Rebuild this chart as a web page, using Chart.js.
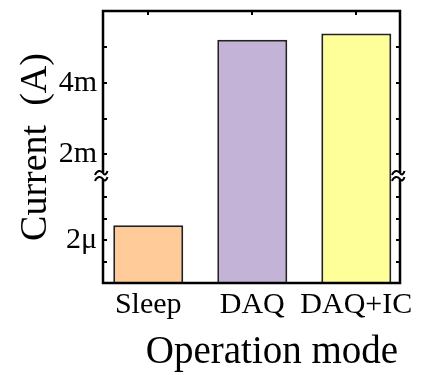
<!DOCTYPE html>
<html>
<head>
<meta charset="utf-8">
<script src="https://cdn.jsdelivr.net/npm/chart.js@4/dist/chart.umd.min.js"></script>
<style>
  html, body { margin: 0; padding: 0; background: #fff; }
  #wrap { width: 427px; height: 375px; }
</style>
</head>
<body>
<div id="wrap"><canvas id="myChart"></canvas></div>
<script>
// operating modes and measured supply current (A)
const modes = ['Sleep', 'DAQ', 'DAQ+IC'];
const currents = [2.7e-6, 5.2e-3, 5.37e-3];
const barColors = ['#fecb99', '#c3b3d7', '#ffff99'];

// broken y axis: microamp segment below, milliamp segment above
const lowRange = [0, 5e-6];
const highRange = [1.4e-3, 6e-3];
const lowTicks = [1e-6, 2e-6, 3e-6, 4e-6];
const highTicks = [2e-3, 3e-3, 4e-3, 5e-3];
const labeledTicks = [2e-6, 2e-3, 4e-3];
const labeledText = ['2\u03bc', '2m', '4m'];

const serif = '"Liberation Serif", "Times New Roman", serif';

function tickText(v) {
    let i = labeledTicks.indexOf(v);
    return i < 0 ? '' : labeledText[i];
}

function noPadding(s) {
    s.paddingTop = 0;
    s.paddingBottom = 0;
    s.paddingLeft = 0;
    s.paddingRight = 0;
}

// inward tick marks on all four sides
const frameTicks = {
    id: 'frameTicks',
    beforeDatasetsDraw(chart) {
        const ctx = chart.ctx;
        const a = chart.chartArea;
        const len = 4;
        ctx.save();
        ctx.strokeStyle = '#000';
        ctx.lineWidth = 2;
        ctx.beginPath();
        [['yLow', lowTicks], ['yHigh', highTicks]].forEach(([id, vals]) => {
            let s = chart.scales[id];
            vals.forEach(v => {
                let y = Math.round(s.getPixelForValue(v));
                ctx.moveTo(a.left, y); ctx.lineTo(a.left + len, y);
                ctx.moveTo(a.right, y); ctx.lineTo(a.right - len, y);
            });
        });
        modes.forEach((m, i) => {
            let x = Math.round(chart.scales.x.getPixelForValue(i));
            ctx.moveTo(x, a.top); ctx.lineTo(x, a.top + len);
            ctx.moveTo(x, a.bottom); ctx.lineTo(x, a.bottom - len);
        });
        ctx.stroke();
        ctx.restore();
    }
};

// keep the microamp bars inside their own segment
const segmentClip = {
    id: 'segmentClip',
    beforeDatasetDraw(chart, args) {
        if (args.index !== 1) return;
        const s = chart.scales.yLow;
        const a = chart.chartArea;
        chart.ctx.save();
        chart.ctx.beginPath();
        chart.ctx.rect(a.left, s.top, a.right - a.left, s.bottom - s.top);
        chart.ctx.clip();
    },
    afterDatasetDraw(chart, args) {
        if (args.index === 1) chart.ctx.restore();
    }
};

// box frame with break marks, plus axis titles
const frameBox = {
    id: 'frameBox',
    afterDatasetsDraw(chart) {
        const ctx = chart.ctx;
        const a = chart.chartArea;
        const yb = chart.scales.yLow.top;
        const gap = 3;
        ctx.save();
        ctx.strokeStyle = '#000';
        ctx.lineWidth = 2.5;
        ctx.lineCap = 'butt';
        ctx.beginPath();
        ctx.moveTo(a.left, yb - gap); ctx.lineTo(a.left, a.top);
        ctx.lineTo(a.right, a.top); ctx.lineTo(a.right, yb - gap);
        ctx.moveTo(a.right, yb + gap); ctx.lineTo(a.right, a.bottom);
        ctx.lineTo(a.left, a.bottom); ctx.lineTo(a.left, yb + gap);
        ctx.stroke();

        ctx.lineWidth = 2;
        ctx.beginPath();
        [a.left, a.right].forEach(x => {
            [yb - gap, yb + gap].forEach(y => {
                ctx.moveTo(x - 8, y + 2);
                ctx.bezierCurveTo(x - 6, y - 3, x - 2, y - 3, x, y);
                ctx.bezierCurveTo(x + 1.5, y + 2.5, x + 3.5, y + 1.5, x + 4.5, y - 2);
            });
        });
        ctx.stroke();

        ctx.fillStyle = '#000';
        ctx.font = '39px ' + serif;
        ctx.textAlign = 'center';
        ctx.textBaseline = 'alphabetic';
        ctx.fillText('Operation mode', 272, 363);
        ctx.font = '38px ' + serif;
        ctx.translate(46, (a.top + a.bottom) / 2);
        ctx.rotate(-Math.PI / 2);
        ctx.fillText('Current  (A)', 0, 0);
        ctx.restore();
    }
};

const tickFont = { family: serif, size: 30 };

let ctx = document.getElementById('myChart').getContext('2d');
let myChart = new Chart(ctx, {
    type: 'bar',
    data: {
        datasets: [{
            label: 'mA segment',
            yAxisID: 'yHigh',
            data: modes.map((m, i) => ({ x: i, y: currents[i] >= highRange[0] ? currents[i] : null })),
            backgroundColor: barColors,
            borderColor: '#222',
            borderWidth: 2
        }, {
            label: 'uA segment',
            yAxisID: 'yLow',
            data: modes.map((m, i) => ({ x: i, y: currents[i] })),
            backgroundColor: barColors,
            borderColor: '#222',
            borderWidth: 2
        }]
    },
    options: {
        responsive: true,
        maintainAspectRatio: false,
        animation: false,
        grouped: false,
        barPercentage: 0.673,
        categoryPercentage: 1,
        layout: { padding: { left: 0, top: 11, right: 27, bottom: 0 } },
        plugins: { legend: { display: false }, tooltip: { enabled: false } },
        scales: {
            x: {
                type: 'linear',
                offset: false,
                min: -0.435,
                max: 2.42,
                grid: { display: false, drawTicks: false, offset: false },
                border: { display: false },
                afterBuildTicks: s => { s.ticks = modes.map((m, i) => ({ value: i })); },
                afterFit: s => { s.height = 92; noPadding(s); },
                ticks: {
                    autoSkip: false,
                    maxRotation: 0,
                    padding: 4,
                    color: '#000',
                    font: tickFont,
                    callback: v => modes[v]
                }
            },
            yLow: {
                type: 'linear',
                position: 'left',
                stack: 'current',
                stackWeight: 107,
                min: lowRange[0],
                max: lowRange[1],
                grid: { display: false, drawTicks: false },
                border: { display: false },
                afterBuildTicks: s => { s.ticks = lowTicks.map(v => ({ value: v })); },
                afterFit: s => { s.width = 103; noPadding(s); },
                ticks: { autoSkip: false, padding: 6, color: '#000', font: tickFont, callback: tickText }
            },
            yHigh: {
                type: 'linear',
                position: 'left',
                stack: 'current',
                stackWeight: 165,
                min: highRange[0],
                max: highRange[1],
                grid: { display: false, drawTicks: false },
                border: { display: false },
                afterBuildTicks: s => { s.ticks = highTicks.map(v => ({ value: v })); },
                afterFit: s => { s.width = 103; noPadding(s); },
                ticks: { autoSkip: false, padding: 6, color: '#000', font: tickFont, callback: tickText }
            }
        }
    },
    plugins: [frameTicks, segmentClip, frameBox]
});
</script>
</body>
</html>
